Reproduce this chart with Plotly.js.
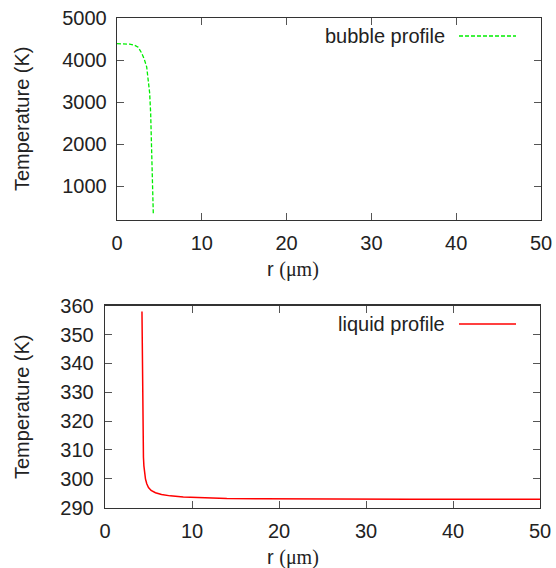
<!DOCTYPE html>
<html>
<head>
<meta charset="utf-8">
<script src="https://cdn.plot.ly/plotly-3.0.1.min.js"></script>
<style>html,body{margin:0;padding:0;background:#fff;}#chart{width:556px;height:568px;}</style>
</head>
<body>
<div id="chart"></div>
<script>
// Bubble (vapour) temperature profile
const bubbleR = [0, 0.5, 1.0, 1.5, 2.0, 2.5, 2.9, 3.2, 3.5, 3.7, 3.85, 3.97, 4.05, 4.12, 4.18, 4.23, 4.28];
const bubbleT = [4390, 4389, 4386, 4378, 4360, 4305, 4170, 4030, 3840, 3545, 3220, 2730, 2200, 1740, 1340, 920, 360];
// Liquid temperature profile
const liquidR = [4.25, 4.28, 4.31, 4.35, 4.38, 4.42, 4.47, 4.55, 4.65, 4.8, 5.0, 5.3, 5.8, 6.5, 7.5, 9, 11, 14, 18, 25, 35, 50];
const liquidT = [358, 345, 330, 318, 312, 307.5, 304.5, 302, 300, 298.3, 297.0, 296.0, 295.2, 294.6, 294.1, 293.7, 293.4, 293.2, 293.1, 293.0, 292.95, 292.95];
// Axis ticks
const xTicks = [0, 10, 20, 30, 40, 50];
const topYTicks = [1000, 2000, 3000, 4000, 5000];
const botYTicks = [290, 300, 310, 320, 330, 340, 350, 360];
const seriesNames = ["bubble profile", "liquid profile"];

const W = 556, H = 568;
const px = v => v / W;
const py = v => 1 - v / H;
const FONT = {family: "Liberation Sans, Arial, sans-serif", size: 20, color: "#222"};

function axisBase(extra) {
  return Object.assign({
    showline: true, mirror: "ticks", linecolor: "#333", linewidth: 1.3,
    ticks: "inside", ticklen: 7, tickwidth: 1, tickcolor: "#555",
    showgrid: false, zeroline: false, tickfont: FONT, fixedrange: true
  }, extra);
}

const traces = [
  {x: bubbleR, y: bubbleT, xaxis: "x", yaxis: "y", mode: "lines", name: seriesNames[0],
   line: {color: "#00ee00", width: 1.3, dash: "4px,2px"}, showlegend: false},
  {x: liquidR, y: liquidT, xaxis: "x2", yaxis: "y2", mode: "lines", name: seriesNames[1],
   line: {color: "#ff0000", width: 1.5}, showlegend: false}
];

const xTitle = "r <span style='font-family:Liberation Serif, Times New Roman, serif'>(μm)</span>";

const layout = {
  width: W, height: H,
  margin: {l: 0, r: 0, t: 0, b: 0},
  paper_bgcolor: "#fff", plot_bgcolor: "#fff",
  font: FONT,
  xaxis: axisBase({domain: [px(117), px(541)], anchor: "y", range: [0, 50], tickvals: xTicks, ticklabelstandoff: 5}),
  yaxis: axisBase({domain: [py(220), py(18)], anchor: "x", range: [203, 5000], tickvals: topYTicks, ticklabelstandoff: 5}),
  xaxis2: axisBase({domain: [px(105), px(540)], anchor: "y2", range: [0, 50], tickvals: xTicks, ticklabelstandoff: 5}),
  yaxis2: axisBase({domain: [py(507.7), py(305.7)], anchor: "x2", range: [290, 360], tickvals: botYTicks, ticklabelstandoff: 6}),
  annotations: [
    {xref: "paper", yref: "paper", x: px(22), y: py(119), text: "Temperature (K)", textangle: -90,
     showarrow: false, xanchor: "center", yanchor: "middle", font: FONT},
    {xref: "paper", yref: "paper", x: px(22), y: py(407), text: "Temperature (K)", textangle: -90,
     showarrow: false, xanchor: "center", yanchor: "middle", font: FONT},
    {xref: "paper", yref: "paper", x: px(293), y: py(270), text: xTitle,
     showarrow: false, xanchor: "center", yanchor: "middle", font: FONT},
    {xref: "paper", yref: "paper", x: px(293), y: py(557), text: xTitle,
     showarrow: false, xanchor: "center", yanchor: "middle", font: FONT},
    {xref: "paper", yref: "paper", x: px(447), y: py(36), text: seriesNames[0],
     showarrow: false, xanchor: "right", yanchor: "middle", font: FONT},
    {xref: "paper", yref: "paper", x: px(447), y: py(324), text: seriesNames[1],
     showarrow: false, xanchor: "right", yanchor: "middle", font: FONT}
  ],
  shapes: [
    {type: "line", xref: "paper", yref: "paper", x0: px(459), x1: px(516), y0: py(36), y1: py(36),
     line: {color: "#00ee00", width: 1.3, dash: "4px,2px"}},
    {type: "line", xref: "paper", yref: "paper", x0: px(459), x1: px(516), y0: py(324), y1: py(324),
     line: {color: "#ff0000", width: 1.5}}
  ]
};

Plotly.newPlot("chart", traces, layout, {staticPlot: true, displayModeBar: false});
</script>
</body>
</html>
